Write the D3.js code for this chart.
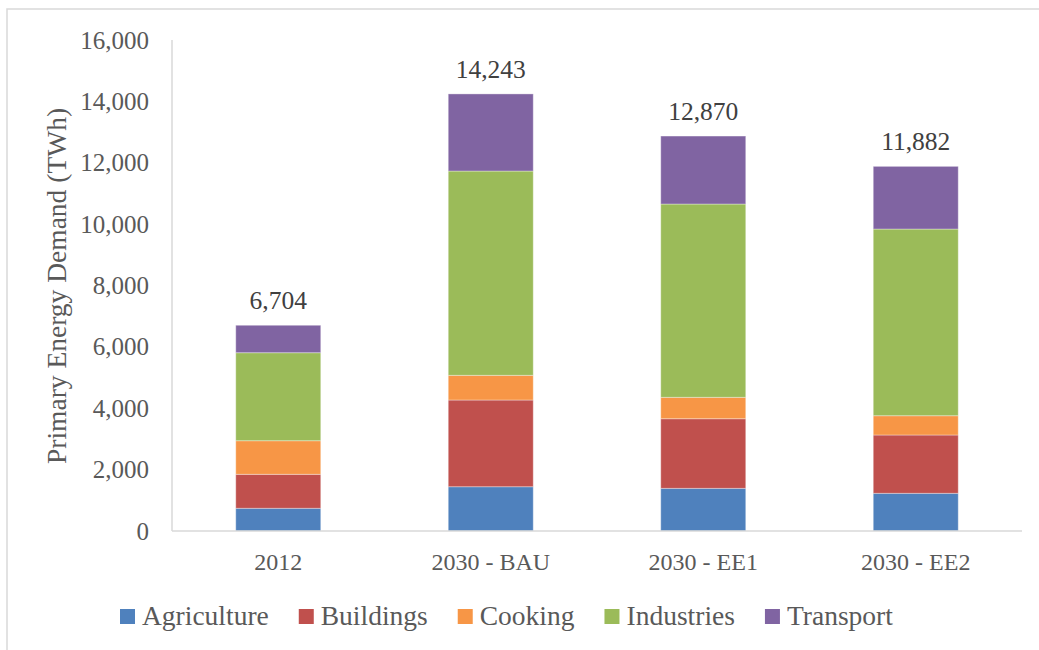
<!DOCTYPE html>
<html>
<head>
<meta charset="utf-8">
<script src="https://cdn.jsdelivr.net/npm/d3@7"></script>
<style>
  body { margin: 0; background: #fff; }
  text { font-family: "Liberation Serif", "Times New Roman", serif; }
</style>
</head>
<body>
<svg id="chart"></svg>
<script>
// chart values
var categories = ["2012", "2030 - BAU", "2030 - EE1", "2030 - EE2"];
var sectors = ["Agriculture", "Buildings", "Cooking", "Industries", "Transport"];
var agriculture = [740, 1443, 1390, 1228];
var buildings   = [1107, 2825, 2269, 1900];
var cooking     = [1095, 805, 697, 629];
var industries  = [2868, 6657, 6299, 6083];
var transport   = [894, 2513, 2215, 2042];
var yTicks = [0, 2000, 4000, 6000, 8000, 10000, 12000, 14000, 16000];
var colors = ["#4f81bd", "#c0504d", "#f79646", "#9bbb59", "#8064a2"];

var W = 1039, H = 650;
var svg = d3.select("#chart").attr("width", W).attr("height", H);

// chart frame
svg.append("rect")
    .attr("x", 7).attr("y", 9)
    .attr("width", W + 20).attr("height", H + 20)
    .attr("fill", "#fff")
    .attr("stroke", "#d9d9d9")
    .attr("stroke-width", 1.5);

var pLeft = 172, pRight = 1022, pTop = 40, pBottom = 531;

var x = d3.scaleBand().domain(categories).range([pLeft, pRight]).paddingInner(0.6).paddingOuter(0.3);
var y = d3.scaleLinear().domain([0, 16000]).range([pBottom, pTop]);

var rows = categories.map(function(c, i) {
    return {cat: c, Agriculture: agriculture[i], Buildings: buildings[i], Cooking: cooking[i],
            Industries: industries[i], Transport: transport[i]};
});
var stack = d3.stack().keys(sectors)(rows);

// y axis labels
var yAxis = d3.axisLeft(y).tickValues(yTicks).tickFormat(d3.format(",")).tickSize(0).tickPadding(23);
var ga = svg.append("g").attr("transform", "translate(" + pLeft + ",0)").call(yAxis);
ga.select(".domain").remove();
ga.selectAll("text")
    .attr("font-family", "Liberation Serif")
    .attr("font-size", 25)
    .attr("fill", "#595959");

// y axis line
svg.append("line")
    .attr("x1", pLeft).attr("x2", pLeft)
    .attr("y1", y(16000)).attr("y2", pBottom)
    .attr("stroke", "#d9d9d9").attr("stroke-width", 1.5);

// bars
var layers = svg.selectAll("g.layer")
    .data(stack)
    .enter().append("g")
    .attr("class", "layer")
    .attr("fill", function(d, i) { return colors[i]; });

layers.selectAll("rect")
    .data(function(d) { return d; })
    .enter().append("rect")
    .attr("x", function(d) { return x(d.data.cat); })
    .attr("width", x.bandwidth())
    .attr("y", function(d) { return y(d[1]); })
    .attr("height", function(d) { return y(d[0]) - y(d[1]); })
    .attr("stroke", "#fff")
    .attr("stroke-opacity", 0.35)
    .attr("stroke-width", 1);

// x axis line
svg.append("line")
    .attr("x1", pLeft).attr("x2", pRight)
    .attr("y1", pBottom).attr("y2", pBottom)
    .attr("stroke", "#d9d9d9").attr("stroke-width", 1.5);

// totals
svg.selectAll("text.total")
    .data(rows)
    .enter().append("text")
    .attr("class", "total")
    .attr("x", function(d) { return x(d.cat) + x.bandwidth() / 2; })
    .attr("y", function(d) { return y(d3.sum(sectors, function(k) { return d[k]; })) - 16; })
    .attr("text-anchor", "middle")
    .attr("font-size", 25.5)
    .attr("fill", "#404040")
    .text(function(d) { return d3.format(",")(d3.sum(sectors, function(k) { return d[k]; })); });

// category labels
svg.selectAll("text.cat")
    .data(categories)
    .enter().append("text")
    .attr("class", "cat")
    .attr("x", function(d) { return x(d) + x.bandwidth() / 2; })
    .attr("y", 570)
    .attr("text-anchor", "middle")
    .attr("font-size", 24)
    .attr("fill", "#595959")
    .text(function(d) { return d; });

// y title
svg.append("text")
    .attr("transform", "translate(66," + 286 + ") rotate(-90)")
    .attr("text-anchor", "middle")
    .attr("font-size", 27.5)
    .attr("fill", "#595959")
    .text("Primary Energy Demand (TWh)");

// legend
var lx = 120;
sectors.forEach(function(s, i) {
    svg.append("rect")
        .attr("x", lx).attr("y", 609)
        .attr("width", 15).attr("height", 15)
        .attr("fill", colors[i]);
    var t = svg.append("text")
        .attr("x", lx + 22).attr("y", 625)
        .attr("font-size", 27.5)
        .attr("fill", "#595959")
        .text(s);
    lx += 22 + t.node().getComputedTextLength() + 30;
});
</script>
</body>
</html>
